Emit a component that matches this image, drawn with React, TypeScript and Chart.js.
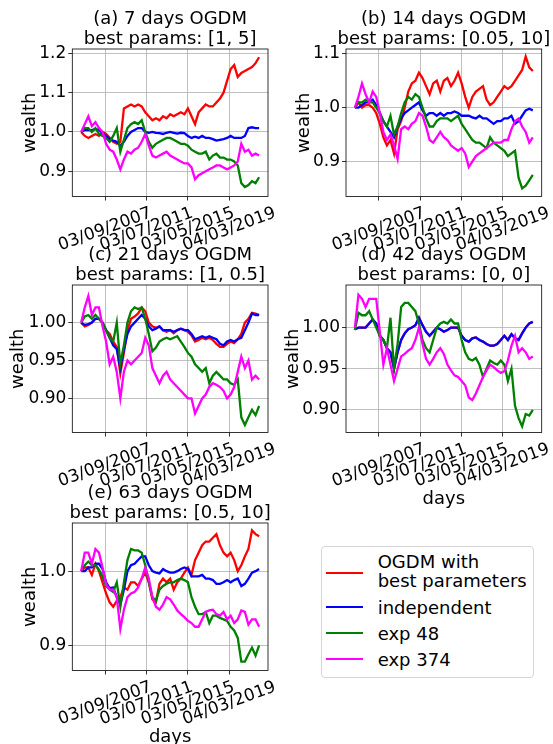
import React, { useEffect, useRef } from "react";
import { Chart, registerables } from "chart.js";
Chart.register(...registerables);

const FONT = "'DejaVu Sans', sans-serif";

const SERIES_NAMES = ["OGDM with best parameters", "independent", "exp 48", "exp 374"];
const SERIES_COLORS = ["#ff0000", "#0000ff", "#008000", "#ff00ff"];

const X_TICK_POS = [6.7, 18.33, 29.96, 41.59];
const X_TICK_LABELS = ["03/09/2007", "03/07/2011", "03/05/2015", "04/03/2019"];

// (a) 7 days
const A_RED = [1.0,0.99,0.985,0.99,0.995,0.99,1.0,0.995,0.985,0.975,0.97, 0.975,1.06,1.065,1.07,1.065,1.07,1.065,1.05,1.04,1.03, 1.035,1.03,1.04,1.035,1.045,1.04,1.045,1.05,1.045,1.06, 1.04,1.02,1.05,1.06,1.07,1.065,1.065,1.075,1.085,1.1, 1.13,1.16,1.17,1.14,1.15,1.155,1.16,1.165,1.175,1.19];
const A_BLUE = [1.0,1.005,1.005,1.005,1.008,1.005,0.998,0.99,0.982,0.978,0.975, 0.965,0.975,0.99,1.0,1.005,1.01,1.01,1.0,0.998,1.0, 0.998,0.997,0.995,0.998,1.0,0.998,0.996,0.998,0.997,0.99, 0.985,0.988,0.985,0.99,0.985,0.985,0.982,0.978,0.98,0.982, 0.985,0.99,0.985,0.985,0.985,0.99,1.01,1.012,1.01,1.01];
const A_GREEN = [1.0,1.01,1.01,1.0,1.01,0.995,0.99,0.985,0.975,0.99,1.01, 0.95,0.98,1.01,1.02,1.025,1.02,1.03,1.0,0.975,0.96, 0.97,0.975,0.98,0.985,0.985,0.98,0.975,0.97,0.97,0.965, 0.955,0.95,0.945,0.945,0.95,0.93,0.94,0.945,0.935,0.935, 0.93,0.93,0.925,0.915,0.87,0.86,0.865,0.875,0.87,0.885];
const A_MAG = [1.0,1.02,1.04,1.015,1.025,1.01,1.0,0.97,0.955,0.95,0.93, 0.905,0.93,0.95,0.945,0.955,0.96,0.975,0.995,0.965,0.94, 0.935,0.94,0.945,0.95,0.94,0.935,0.93,0.925,0.92,0.92, 0.91,0.88,0.89,0.895,0.9,0.905,0.91,0.915,0.915,0.91, 0.905,0.91,0.915,0.925,0.97,0.95,0.955,0.94,0.945,0.94];

// (b) 14 days
const B_RED = [1.0,1.01,1.0,1.005,1.005,1.0,0.99,0.97,0.945,0.93,0.94, 0.915,0.96,0.975,1.0,1.03,1.045,1.05,1.065,1.055,1.04, 1.025,1.045,1.05,1.03,1.05,1.055,1.04,1.05,1.065,1.045, 1.02,1.0,1.02,1.03,1.035,1.04,1.015,1.005,1.01,1.02, 1.03,1.04,1.035,1.04,1.05,1.06,1.07,1.095,1.075,1.068];
const B_BLUE = [1.0,1.0,1.005,1.01,1.01,1.015,1.005,0.99,0.975,0.965,0.955, 0.945,0.965,0.98,0.99,0.995,1.0,1.005,1.01,0.995,0.985, 0.99,0.99,0.985,0.99,0.985,0.99,0.99,0.993,0.99,0.985, 0.985,0.985,0.982,0.98,0.985,0.98,0.98,0.975,0.97,0.975, 0.975,0.98,0.98,0.985,0.97,0.975,0.985,0.995,0.998,0.995];
const B_GREEN = [1.0,1.01,1.01,1.015,1.01,1.01,1.0,0.99,0.975,0.965,0.985, 0.95,0.965,0.99,1.01,1.02,1.015,1.025,1.02,1.0,0.98, 0.965,0.965,0.975,0.98,0.98,0.98,0.975,0.98,0.985,0.97, 0.96,0.95,0.94,0.935,0.935,0.93,0.925,0.945,0.935,0.93, 0.925,0.92,0.91,0.915,0.92,0.87,0.85,0.855,0.865,0.875];
const B_MAG = [1.0,1.02,1.045,1.025,1.01,1.03,1.02,0.99,0.955,0.94,0.95, 0.93,0.905,0.96,0.965,0.96,0.97,0.975,0.99,0.985,0.965, 0.94,0.935,0.945,0.955,0.945,0.94,0.93,0.925,0.92,0.925, 0.915,0.89,0.9,0.91,0.915,0.92,0.925,0.93,0.935,0.935, 0.935,0.94,0.94,0.96,0.975,0.98,0.965,0.955,0.935,0.945];

// (c) 21 days
const C_RED = [1.0,0.995,0.997,1.0,1.005,1.005,1.0,0.99,0.985,0.975,0.968, 0.933,0.96,0.99,1.005,1.008,1.012,1.02,1.015,1.0,0.995, 0.993,0.995,0.99,0.988,0.99,0.986,0.99,0.992,0.99,0.988, 0.983,0.975,0.977,0.98,0.978,0.98,0.977,0.972,0.968,0.968, 0.972,0.975,0.973,0.978,0.985,1.0,1.005,1.013,1.012,1.01];
const C_BLUE = [1.0,0.997,0.998,1.0,1.005,1.005,1.0,0.99,0.98,0.97,0.965, 0.94,0.965,0.985,0.995,1.0,1.005,1.01,1.005,0.995,0.99, 0.992,0.995,0.99,0.99,0.99,0.988,0.99,0.992,0.99,0.99, 0.985,0.978,0.98,0.982,0.98,0.982,0.98,0.978,0.972,0.97, 0.975,0.977,0.975,0.978,0.98,0.99,1.0,1.012,1.01,1.01];
const C_GREEN = [1.0,1.008,1.01,1.005,1.01,1.005,1.0,0.99,0.98,0.975,1.0, 0.945,0.97,1.0,1.015,1.02,1.018,1.02,1.005,0.985,0.962, 0.967,0.975,0.978,0.98,0.978,0.98,0.982,0.975,0.968,0.96, 0.955,0.945,0.94,0.935,0.94,0.92,0.93,0.935,0.93,0.925, 0.925,0.92,0.918,0.925,0.875,0.865,0.875,0.885,0.878,0.89];
const C_MAG = [1.0,1.02,1.035,1.01,1.02,1.02,0.995,0.975,0.945,0.955,0.935, 0.9,0.935,0.95,0.945,0.95,0.955,0.96,0.98,0.97,0.94, 0.93,0.92,0.93,0.935,0.925,0.92,0.915,0.91,0.905,0.9, 0.9,0.88,0.89,0.9,0.905,0.915,0.92,0.918,0.915,0.91, 0.9,0.905,0.915,0.935,0.955,0.94,0.95,0.925,0.93,0.925];

// (d) 42 days
const D_RED = [0.998,1.0,1.0,1.0,1.005,1.01,1.005,0.99,0.985,0.975,0.97, 0.95,0.97,0.985,0.993,0.998,1.0,1.003,1.012,1.003,0.995, 0.99,0.995,1.0,0.998,0.995,0.997,1.0,1.0,1.0,0.99, 0.985,0.983,0.987,0.988,0.985,0.983,0.98,0.978,0.978,0.98, 0.985,0.99,0.985,0.992,0.987,0.985,0.993,1.0,1.005,1.007];
const D_BLUE = [0.998,1.0,1.0,1.0,1.005,1.01,1.005,0.99,0.985,0.975,0.97, 0.95,0.97,0.985,0.993,0.998,1.0,1.003,1.012,1.003,0.995, 0.99,0.995,1.0,0.998,0.995,0.997,1.0,1.0,1.0,0.99, 0.985,0.983,0.987,0.988,0.985,0.983,0.98,0.978,0.978,0.98, 0.985,0.99,0.985,0.992,0.987,0.985,0.993,1.0,1.005,1.007];
const D_GREEN = [0.997,1.018,1.015,1.015,1.02,1.01,1.0,0.99,0.985,0.975,1.012, 0.95,0.98,1.025,1.03,1.03,1.025,1.02,1.005,0.985,0.975, 0.97,0.985,1.0,1.005,1.007,1.005,1.01,1.005,1.005,0.985, 0.97,0.962,0.96,0.963,0.955,0.94,0.95,0.96,0.957,0.955, 0.96,0.955,0.935,0.95,0.905,0.89,0.88,0.895,0.893,0.9];
const D_MAG = [1.0,1.04,1.035,1.025,1.035,1.035,1.035,0.995,0.955,0.975,0.955, 0.935,0.95,0.965,0.968,0.972,0.975,0.985,1.0,0.98,0.962, 0.955,0.962,0.97,0.975,0.968,0.955,0.948,0.942,0.94,0.935, 0.93,0.915,0.912,0.92,0.93,0.94,0.948,0.955,0.952,0.948, 0.945,0.947,0.96,0.978,0.99,0.97,0.975,0.97,0.962,0.965];

// (e) 63 days
const E_RED = [1.0,1.005,1.005,0.995,1.01,1.0,0.985,0.97,0.958,0.952,0.96, 0.965,0.978,0.975,0.985,0.985,0.98,0.99,0.998,0.985,0.962, 0.958,0.983,0.99,0.985,0.99,0.975,0.985,0.99,0.998,1.005, 0.995,1.015,1.025,1.035,1.04,1.04,1.045,1.05,1.035,1.025, 1.02,1.025,1.015,1.0,1.008,1.02,1.03,1.055,1.05,1.047];
const E_BLUE = [1.0,1.0,1.005,1.005,1.01,1.01,1.003,0.985,0.977,0.978,0.965, 0.955,0.975,1.0,1.008,1.01,1.015,1.02,1.02,1.008,1.0, 0.998,0.997,1.003,1.0,0.998,0.998,1.0,1.003,1.005,1.003, 0.993,0.993,0.993,0.995,0.99,0.99,0.988,0.983,0.983,0.985, 0.988,0.985,0.988,0.99,0.98,0.983,0.99,0.998,1.0,1.003];
const E_GREEN = [1.0,1.008,1.013,1.008,1.008,1.002,0.993,0.98,0.975,0.972,0.985, 0.952,0.985,1.015,1.03,1.028,1.028,1.025,1.008,0.985,0.965, 0.96,0.975,0.98,0.983,0.985,0.985,0.988,0.99,0.988,0.985, 0.965,0.952,0.942,0.942,0.945,0.93,0.94,0.94,0.937,0.935, 0.933,0.925,0.92,0.91,0.878,0.878,0.888,0.897,0.886,0.9];
const E_MAG = [1.0,1.025,1.025,1.01,1.03,1.025,1.005,0.982,0.975,0.975,0.965, 0.922,0.948,0.965,0.97,0.972,0.978,0.99,1.005,0.99,0.965, 0.952,0.948,0.955,0.965,0.962,0.955,0.947,0.942,0.938,0.933, 0.93,0.925,0.925,0.935,0.945,0.947,0.948,0.942,0.94,0.945, 0.935,0.94,0.93,0.935,0.947,0.945,0.928,0.935,0.935,0.925];

const TITLES = [
  ["(a) 7 days OGDM", "best params: [1, 5]"],
  ["(b) 14 days OGDM", "best params: [0.05, 10]"],
  ["(c) 21 days OGDM", "best params: [1, 0.5]"],
  ["(d) 42 days OGDM", "best params: [0, 0]"],
  ["(e) 63 days OGDM", "best params: [0.5, 10]"],
];
const Y_RANGES = [[0.836, 1.211], [0.835, 1.109], [0.855, 1.0496], [0.8725, 1.0518], [0.866, 1.065]];
const Y_TICKS = [[0.9, 1.0, 1.1, 1.2], [0.9, 1.0, 1.1], [0.9, 0.95, 1.0], [0.9, 0.95, 1.0], [0.9, 1.0]];
const Y_DECIMALS = [1, 1, 2, 2, 1];
const PANEL_DATA = [
  [A_RED, A_BLUE, A_GREEN, A_MAG],
  [B_RED, B_BLUE, B_GREEN, B_MAG],
  [C_RED, C_BLUE, C_GREEN, C_MAG],
  [D_RED, D_BLUE, D_GREEN, D_MAG],
  [E_RED, E_BLUE, E_GREEN, E_MAG],
];
const Y_LABEL = "wealth";
const X_LABEL = "days";

// layout
const CANVAS_H = 275;
const PLOT_TOP = 49;
const PLOT_H = 147.5;
const COLS = [
  { left: 0, width: 276, axisW: 72.3, padRight: 8 },
  { left: 276, width: 277, axisW: 70, padRight: 11.3 },
];
const ROW_TOPS = [0, 236, 474];
const PANEL_POS = [
  { col: 0, row: 0, yLabOff: 42, xLabel: false },
  { col: 1, row: 0, yLabOff: 42, xLabel: false },
  { col: 0, row: 1, yLabOff: 54, xLabel: false },
  { col: 1, row: 1, yLabOff: 53, xLabel: true },
  { col: 0, row: 2, yLabOff: 42, xLabel: true },
];

const decorPlugin = {
  id: "decor",
  afterDatasetsDraw(chart: any, _args: any, opts: any) {
    const { ctx, chartArea: a } = chart;
    const idx = opts.idx as number;
    const pos = PANEL_POS[idx];
    ctx.save();
    ctx.strokeStyle = "#000";
    ctx.lineWidth = 0.8;
    ctx.strokeRect(a.left, a.top, a.right - a.left, a.bottom - a.top);
    ctx.restore();

    ctx.save();
    ctx.fillStyle = "#000";
    const cx = (a.left + a.right) / 2;
    ctx.font = `18px ${FONT}`;
    ctx.textAlign = "center";
    ctx.textBaseline = "alphabetic";
    ctx.fillText(TITLES[idx][0], cx, a.top - 25.5);
    ctx.fillText(TITLES[idx][1], cx, a.top - 5.5);

    // y label
    ctx.save();
    ctx.translate(a.left - pos.yLabOff, (a.top + a.bottom) / 2);
    ctx.rotate(-Math.PI / 2);
    ctx.textBaseline = "middle";
    ctx.fillText(Y_LABEL, 0, 0);
    ctx.restore();

    // x tick labels rotated
    const xs = chart.scales.x;
    ctx.font = `17px ${FONT}`;
    const th = (20 * Math.PI) / 180;
    X_TICK_POS.forEach((v, i) => {
      const lab = X_TICK_LABELS[i];
      const w = ctx.measureText(lab).width;
      const h = 17 * 1.16;
      const bh = w * Math.sin(th) + h * Math.cos(th);
      const x = xs.getPixelForValue(v);
      const y = a.bottom + 7 + bh / 2;
      ctx.save();
      ctx.translate(x, y);
      ctx.rotate(-th);
      ctx.textAlign = "center";
      ctx.textBaseline = "middle";
      ctx.fillText(lab, 0, 0);
      ctx.restore();
    });

    if (pos.xLabel) {
      ctx.font = `18px ${FONT}`;
      ctx.textAlign = "center";
      ctx.textBaseline = "alphabetic";
      ctx.fillText(X_LABEL, cx, a.bottom + 71);
    }
    ctx.restore();
  },
};

function Panel({ idx }: { idx: number }) {
  const ref = useRef<HTMLCanvasElement>(null);
  const pos = PANEL_POS[idx];
  const col = COLS[pos.col];
  useEffect(() => {
    if (!ref.current) return;
    const series = PANEL_DATA[idx];
    const chart = new Chart(ref.current, {
      type: "line",
      data: {
        datasets: series.map((arr, s) => ({
          label: SERIES_NAMES[s],
          data: arr.map((y, i) => ({ x: i, y })),
          borderColor: SERIES_COLORS[s],
          backgroundColor: SERIES_COLORS[s],
          borderWidth: 2.3,
          pointRadius: 0,
          tension: 0,
          fill: false,
          order: 4 - s,
        })),
      },
      options: {
        animation: false,
        responsive: false,
        devicePixelRatio: 1,
        layout: { padding: { left: 0, right: col.padRight, top: PLOT_TOP, bottom: 0 } },
        plugins: {
          legend: { display: false },
          tooltip: { enabled: false },
          title: { display: false },
          decor: { idx },
        } as any,
        scales: {
          x: {
            type: "linear",
            min: -2.5,
            max: 52.5,
            afterBuildTicks: (s: any) => {
              s.ticks = X_TICK_POS.map((v) => ({ value: v }));
            },
            afterFit: (s: any) => {
              s.height = CANVAS_H - PLOT_TOP - PLOT_H;
            },
            ticks: { display: false },
            grid: { color: "#b0b0b0", lineWidth: 0.8, tickLength: 4, tickColor: "#000", drawTicks: true },
            border: { display: false },
          },
          y: {
            type: "linear",
            min: Y_RANGES[idx][0],
            max: Y_RANGES[idx][1],
            afterBuildTicks: (s: any) => {
              s.ticks = Y_TICKS[idx].map((v) => ({ value: v }));
            },
            afterFit: (s: any) => {
              s.width = col.axisW;
            },
            ticks: {
              font: { family: FONT, size: 17 },
              color: "#000",
              padding: 2,
              callback: (v: any) => Number(v).toFixed(Y_DECIMALS[idx]),
            },
            grid: { color: "#b0b0b0", lineWidth: 0.8, tickLength: 4, tickColor: "#000", drawTicks: true },
            border: { display: false },
          },
        },
      },
      plugins: [decorPlugin as any],
    });
    return () => chart.destroy();
  }, [idx]);
  return (
    <canvas
      ref={ref}
      width={col.width}
      height={CANVAS_H}
      style={{ position: "absolute", left: col.left, top: ROW_TOPS[pos.row], width: col.width, height: CANVAS_H }}
    />
  );
}

const LEGEND_ROWS = [
  { lines: ["OGDM with", "best parameters"], lineY: 572.7, textTop: 551.5 },
  { lines: ["independent"], lineY: 607.3, textTop: 597.5 },
  { lines: ["exp 48"], lineY: 633.3, textTop: 624 },
  { lines: ["exp 374"], lineY: 659.3, textTop: 650 },
];

function Legend() {
  return (
    <div>
      <div
        style={{
          position: "absolute",
          left: 320.7,
          top: 546,
          width: 211,
          height: 130,
          border: "1px solid #d6d6d6",
          borderRadius: 4,
          background: "#fff",
        }}
      />
      {LEGEND_ROWS.map((r, i) => (
        <React.Fragment key={i}>
          <div
            style={{
              position: "absolute",
              left: 326,
              top: r.lineY - 1,
              width: 37,
              height: 2,
              background: SERIES_COLORS[i],
            }}
          />
          <div
            style={{
              position: "absolute",
              left: 377.7,
              top: r.textTop,
              fontFamily: FONT,
              fontSize: 18,
              lineHeight: r.lines.length > 1 ? "19.6px" : "20px",
              color: "#000",
              whiteSpace: "nowrap",
            }}
          >
            {r.lines.map((t, j) => (
              <div key={j}>{t}</div>
            ))}
          </div>
        </React.Fragment>
      ))}
    </div>
  );
}

export default function App() {
  return (
    <div
      style={{
        position: "absolute",
        left: 0,
        top: 0,
        width: 553,
        height: 744,
        overflow: "hidden",
        background: "#fff",
      }}
    >
      {PANEL_POS.map((_, i) => (
        <Panel key={i} idx={i} />
      ))}
      <Legend />
    </div>
  );
}
